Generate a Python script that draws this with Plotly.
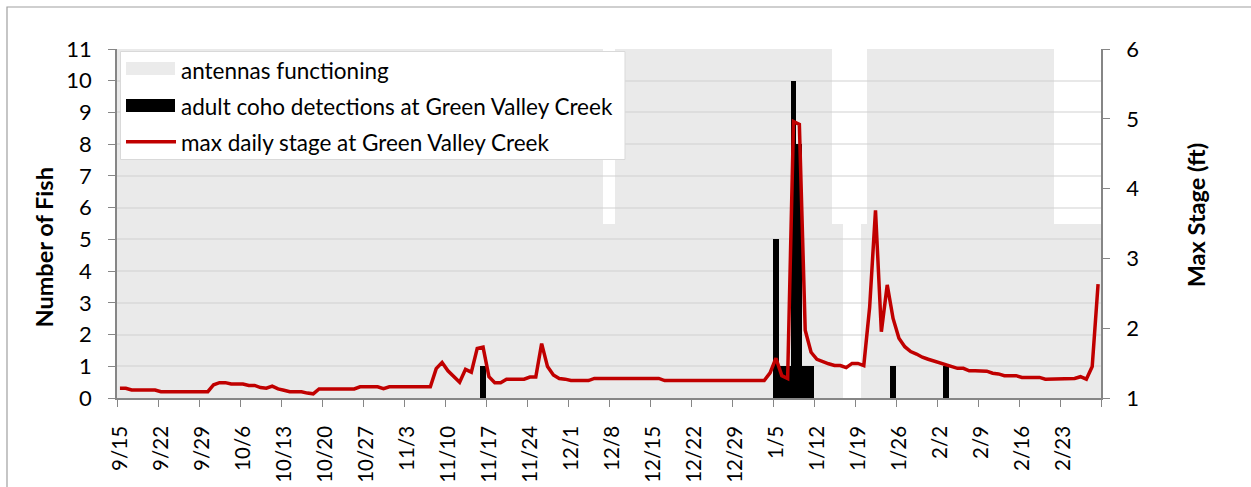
import pandas as pd
import plotly.graph_objects as go

# ---------------- data ----------------
start_date = "2013-09-15"
n_days = 168

# antennas functioning (plotted on fish-count axis: 11 = both, 5.5 = one, 0 = none)
antennas = [
    11, 11, 11, 11, 11, 11, 11,
    11, 11, 11, 11, 11, 11, 11,
    11, 11, 11, 11, 11, 11, 11,
    11, 11, 11, 11, 11, 11, 11,
    11, 11, 11, 11, 11, 11, 11,
    11, 11, 11, 11, 11, 11, 11,
    11, 11, 11, 11, 11, 11, 11,
    11, 11, 11, 11, 11, 11, 11,
    11, 11, 11, 11, 11, 11, 11,
    11, 11, 11, 11, 11, 11, 11,
    11, 11, 11, 11, 11, 11, 11,
    11, 11, 11, 11, 11, 11, 5.5,
    5.5, 11, 11, 11, 11, 11, 11,
    11, 11, 11, 11, 11, 11, 11,
    11, 11, 11, 11, 11, 11, 11,
    11, 11, 11, 11, 11, 11, 11,
    11, 11, 11, 11, 11, 11, 11,
    11, 11, 11, 5.5, 5.5, 0, 0,
    0, 5.5, 11, 11, 11, 11, 11,
    11, 11, 11, 11, 11, 11, 11,
    11, 11, 11, 11, 11, 11, 11,
    11, 11, 11, 11, 11, 11, 11,
    11, 11, 11, 11, 11, 11, 5.5,
    5.5, 5.5, 5.5, 5.5, 5.5, 5.5, 5.5,
]

# adult coho detections
det_dates = ["2013-11-16", "2014-01-05", "2014-01-06", "2014-01-07", "2014-01-08",
             "2014-01-09", "2014-01-10", "2014-01-11", "2014-01-25", "2014-02-03"]
det_counts = [1, 5, 1, 1, 10, 8, 1, 1, 1, 1]

# max daily stage (ft)
stage = [
    1.14, 1.14, 1.115, 1.115, 1.115, 1.115, 1.115,
    1.09, 1.09, 1.09, 1.09, 1.09, 1.09, 1.09,
    1.09, 1.09, 1.19, 1.22, 1.22, 1.20, 1.20,
    1.20, 1.18, 1.18, 1.15, 1.14, 1.17, 1.13,
    1.11, 1.09, 1.09, 1.09, 1.07, 1.06, 1.13,
    1.13, 1.13, 1.13, 1.13, 1.13, 1.13, 1.16,
    1.16, 1.16, 1.16, 1.135, 1.16, 1.16, 1.16,
    1.16, 1.16, 1.16, 1.16, 1.16, 1.42, 1.51,
    1.39, 1.30, 1.225, 1.41, 1.37, 1.71, 1.73,
    1.305, 1.22, 1.22, 1.27, 1.27, 1.27, 1.27,
    1.30, 1.30, 1.78, 1.45, 1.33, 1.28, 1.27,
    1.25, 1.25, 1.25, 1.25, 1.28, 1.28, 1.28,
    1.28, 1.28, 1.28, 1.28, 1.28, 1.28, 1.28,
    1.28, 1.28, 1.25, 1.25, 1.25, 1.25, 1.25,
    1.25, 1.25, 1.25, 1.25, 1.25, 1.25, 1.25,
    1.25, 1.25, 1.25, 1.25, 1.25, 1.25, 1.36,
    1.57, 1.32, 1.28, 4.96, 4.92, 1.97, 1.655,
    1.555, 1.52, 1.49, 1.465, 1.465, 1.435, 1.495,
    1.495, 1.465, 2.30, 3.69, 1.95, 2.62, 2.14,
    1.855, 1.735, 1.665, 1.63, 1.585, 1.555, 1.53,
    1.505, 1.485, 1.45, 1.425, 1.425, 1.39, 1.39,
    1.385, 1.385, 1.355, 1.345, 1.32, 1.32, 1.32,
    1.295, 1.295, 1.295, 1.295, 1.27, 1.27, 1.27,
    1.27, 1.27, 1.28, 1.305, 1.27, 1.45, 2.63,
]

tick_labels = ["9/15", "9/22", "9/29", "10/6", "10/13", "10/20", "10/27", "11/3",
               "11/10", "11/17", "11/24", "12/1", "12/8", "12/15", "12/22", "12/29",
               "1/5", "1/12", "1/19", "1/26", "2/2", "2/9", "2/16", "2/23", ""]

legend_labels = ["antennas functioning",
                 "adult coho detections at Green Valley Creek",
                 "max daily stage at Green Valley Creek"]

left_title = "Number of Fish"
right_title = "Max Stage (ft)"

# ---------------- figure ----------------
FONT = "Lato, 'Open Sans', sans-serif"
half_day = pd.Timedelta(hours=12)
day_ms = 86400000

dates = pd.date_range(start_date, periods=n_days, freq="D")
x_mid = dates + half_day
det_x = pd.to_datetime(det_dates) + half_day
tick_vals = pd.date_range(start_date, periods=len(tick_labels), freq="7D")

fig = go.Figure()

fig.add_trace(go.Bar(
    x=x_mid, y=antennas, width=[day_ms] * n_days,
    marker=dict(color="rgba(205,205,205,0.42)", line=dict(width=0)),
    name=legend_labels[0], showlegend=False, hoverinfo="skip",
))
fig.add_trace(go.Bar(
    x=det_x, y=det_counts, width=[day_ms] * len(det_counts),
    marker=dict(color="#000000", line=dict(width=0)),
    name=legend_labels[1], showlegend=False,
))
fig.add_trace(go.Scatter(
    x=x_mid, y=stage, yaxis="y2", mode="lines",
    line=dict(color="#C00000", width=3.5),
    name=legend_labels[2], showlegend=False,
))

axis_col = "#868686"
TICK_SIZE = 22
fig.update_layout(
    width=1251, height=487,
    margin=dict(l=117, r=150, t=49, b=89),
    paper_bgcolor="white", plot_bgcolor="white",
    barmode="overlay", bargap=0,
    font=dict(family=FONT, size=TICK_SIZE, color="#000000"),
    xaxis=dict(
        type="date", automargin=False,
        range=[dates[0], dates[0] + pd.Timedelta(days=n_days)],
        tickmode="array", tickvals=tick_vals, ticktext=tick_labels,
        tickangle=-90, ticks="outside", ticklen=7, tickcolor=axis_col,
        showline=True, linecolor=axis_col, linewidth=1.5,
        showgrid=False, zeroline=False,
        tickfont=dict(size=20.5), ticklabelstandoff=11, ticklabelshift=3,
    ),
    yaxis=dict(
        automargin=False,
        range=[0, 11], tickmode="linear", tick0=0, dtick=1,
        ticks="outside", ticklen=7, tickcolor=axis_col,
        showline=True, linecolor=axis_col, linewidth=1.5,
        showgrid=True, gridcolor="#E8E8E8", gridwidth=1.5, zeroline=False,
        tickfont=dict(size=TICK_SIZE), ticklabelstandoff=12,
    ),
    yaxis2=dict(
        automargin=False,
        overlaying="y", side="right",
        range=[1, 6], tickmode="linear", tick0=1, dtick=1,
        ticks="outside", ticklen=7, tickcolor=axis_col,
        showline=True, linecolor=axis_col, linewidth=1.5,
        showgrid=False, zeroline=False,
        tickfont=dict(size=TICK_SIZE), ticklabelstandoff=12,
    ),
)


# ---- pixel helpers (plot area spans x 117..1101, y 49..398) ----
def px_x(px):
    return (px - 117) / 984


def px_y(py):
    return (398 - py) / 349


shapes = [
    # outer chart border
    dict(type="rect", xref="paper", yref="paper",
         x0=px_x(7), x1=px_x(1265), y0=px_y(500), y1=px_y(7),
         line=dict(color="#A0A0A0", width=1.2), fillcolor="rgba(0,0,0,0)", layer="below"),
    # legend box
    dict(type="rect", xref="paper", yref="paper",
         x0=px_x(120.5), x1=px_x(625), y0=px_y(159.5), y1=px_y(51.5),
         line=dict(color="#D9D9D9", width=1), fillcolor="white", layer="above"),
    dict(type="rect", xref="paper", yref="paper",
         x0=px_x(126), x1=px_x(175), y0=px_y(75), y1=px_y(62),
         line=dict(width=0), fillcolor="#EBEBEB", layer="above"),
    dict(type="rect", xref="paper", yref="paper",
         x0=px_x(126), x1=px_x(175), y0=px_y(112), y1=px_y(99),
         line=dict(width=0), fillcolor="#000000", layer="above"),
    dict(type="line", xref="paper", yref="paper",
         x0=px_x(126), x1=px_x(176), y0=px_y(141.7), y1=px_y(141.7),
         line=dict(color="#C00000", width=3.5), layer="above"),
]
fig.update_layout(shapes=shapes)

for label, cy in zip(legend_labels, [70, 106, 142]):
    fig.add_annotation(
        xref="paper", yref="paper", x=px_x(179), y=px_y(cy),
        text=label, showarrow=False, xanchor="left", yanchor="middle",
        font=dict(family=FONT, size=22.5, color="#000000"),
    )

# axis titles
fig.add_annotation(
    xref="paper", yref="paper", x=px_x(43), y=px_y(247.5),
    text="<b>" + left_title + "</b>", textangle=-90, showarrow=False,
    xanchor="center", yanchor="middle", font=dict(family=FONT, size=23.5, color="#000000"),
)
fig.add_annotation(
    xref="paper", yref="paper", x=px_x(1195.5), y=px_y(215.8),
    text="<b>" + right_title + "</b>", textangle=-90, showarrow=False,
    xanchor="center", yanchor="middle", font=dict(family=FONT, size=23.5, color="#000000"),
)

fig.write_html("out.html", config={"displayModeBar": False},
               post_script="document.body.style.margin='0px';")
